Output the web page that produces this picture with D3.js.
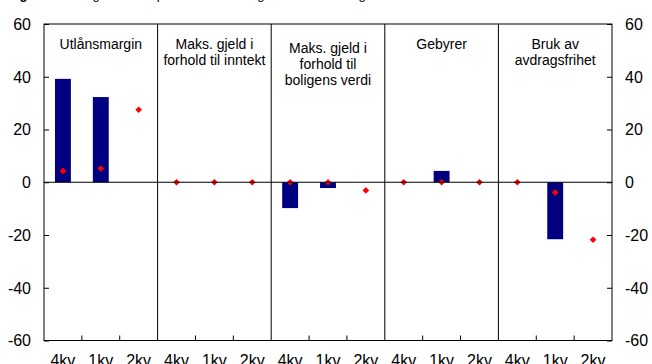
<!DOCTYPE html>
<html>
<head>
<meta charset="utf-8">
<script src="https://cdn.jsdelivr.net/npm/d3@7"></script>
<style>
  body { margin: 0; background: #fff; }
  svg { display: block; font-family: "Liberation Sans", Arial, sans-serif; }
</style>
</head>
<body>
<div id="chart"></div>
<script>
// Panel categories (label lines as shown)
const categories = ["Utlånsmargin", "Inntekt", "Boligverdi", "Gebyrer", "Avdragsfrihet"];
const categoryLabels = [
    ["Utlånsmargin"],
    ["Maks. gjeld i", "forhold til inntekt"],
    ["Maks. gjeld i", "forhold til", "boligens verdi"],
    ["Gebyrer"],
    ["Bruk av", "avdragsfrihet"]
];
const periods = ["4kv", "1kv", "2kv"];

// Bars: actual change (no bar for the last period)
const actual = [
    [39.2, 32.3, null],
    [0, 0, null],
    [-9.8, -2.2, null],
    [0, 4.3, null],
    [0, -21.6, null]
];
// Red diamonds: expected change
const expected = [
    [4.3, 5.2, 27.5],
    [0, 0, 0],
    [0, 0, -3.1],
    [0, 0, 0],
    [0, -3.9, -21.8]
];
const yTicks = [-60, -40, -20, 0, 20, 40, 60];

const W = 652, H = 364;
const margin = { top: 24, right: 40, bottom: 23.5, left: 44 };
const width = W - margin.left - margin.right;
const height = H - margin.top - margin.bottom;

const svg = d3.select("#chart").append("svg")
    .attr("width", W)
    .attr("height", H);

// Clipped title at the very top
svg.append("text")
    .attr("x", 8)
    .attr("y", -1)
    .attr("font-size", 13)
    .call(t => {
        t.append("tspan").attr("font-weight", "bold").text("Figur 3 ");
        t.append("tspan").text("Endringer i kredittpraksis. Faktisk og forventet endring");
    });

const g = svg.append("g")
    .attr("transform", `translate(${margin.left},${margin.top})`);

const x0 = d3.scaleBand().domain(categories).range([0, width]).padding(0);
const x1 = d3.scaleBand().domain(periods).range([0, x0.bandwidth()]).padding(0);
const y = d3.scaleLinear().domain([-60, 60]).range([height, 0]);

const barW = x1.bandwidth() * 0.42;

// Bars
const panels = g.selectAll("g.panel")
    .data(categories)
    .enter()
    .append("g")
    .attr("class", "panel")
    .attr("transform", d => `translate(${x0(d)},0)`);

panels.selectAll("rect")
    .data((d, i) => periods.map((p, j) => ({ p, v: actual[i][j] })).filter(e => e.v !== null && e.v !== 0))
    .enter()
    .append("rect")
    .attr("x", d => x1(d.p) + x1.bandwidth() / 2 - barW / 2)
    .attr("width", barW)
    .attr("y", d => y(Math.max(0, d.v)))
    .attr("height", d => Math.abs(y(d.v) - y(0)))
    .attr("fill", "#000080");

// Zero line
g.append("line")
    .attr("x1", 0).attr("x2", width)
    .attr("y1", y(0)).attr("y2", y(0))
    .attr("stroke", "#000").attr("stroke-width", 1.2);

// Panel dividers
g.selectAll("line.div")
    .data(categories.slice(1))
    .enter()
    .append("line")
    .attr("class", "div")
    .attr("x1", d => x0(d)).attr("x2", d => x0(d))
    .attr("y1", 0).attr("y2", height)
    .attr("stroke", "#000").attr("stroke-width", 1);

// Diamonds
const diamond = d3.symbol().type(d3.symbolDiamond2).size(28);
panels.selectAll("path.dot")
    .data((d, i) => periods.map((p, j) => ({ p, v: expected[i][j] })))
    .enter()
    .append("path")
    .attr("class", "dot")
    .attr("d", diamond)
    .attr("transform", d => `translate(${x1(d.p) + x1.bandwidth() / 2},${y(d.v)})`)
    .attr("fill", "#ff0000");

// Category labels
panels.each(function(d, i) {
    const lines = categoryLabels[i];
    const top = lines.length === 3 ? 53 : 49;
    const t = d3.select(this).append("text")
        .attr("text-anchor", "middle")
        .attr("font-size", 14)
        .attr("fill", "#000");
    lines.forEach((s, k) => {
        t.append("tspan")
            .attr("x", x0.bandwidth() / 2)
            .attr("y", top - margin.top + k * 16)
            .text(s);
    });
});

// Frame
g.append("rect")
    .attr("x", 0).attr("y", 0)
    .attr("width", width).attr("height", height)
    .attr("fill", "none")
    .attr("stroke", "#000").attr("stroke-width", 1);

// Y axes (ticks inward)
const yLeft = g.append("g")
    .call(d3.axisRight(y).tickValues(yTicks).tickSize(5).tickFormat(""));
const yRight = g.append("g")
    .attr("transform", `translate(${width},0)`)
    .call(d3.axisLeft(y).tickValues(yTicks).tickSize(5).tickFormat(""));
[yLeft, yRight].forEach(a => { a.select(".domain").remove(); a.selectAll("line").attr("stroke", "#000"); });

g.selectAll("text.yl")
    .data(yTicks)
    .enter()
    .append("text")
    .attr("class", "yl")
    .attr("x", -13)
    .attr("y", d => y(d))
    .attr("dy", "0.36em")
    .attr("text-anchor", "end")
    .attr("font-size", 16)
    .text(d => d);

g.selectAll("text.yr")
    .data(yTicks)
    .enter()
    .append("text")
    .attr("class", "yr")
    .attr("x", width + 13)
    .attr("y", d => y(d))
    .attr("dy", "0.36em")
    .attr("text-anchor", "start")
    .attr("font-size", 16)
    .text(d => d);

// Bottom ticks (pointing up) and period labels
panels.selectAll("line.xt")
    .data(periods.slice(1))
    .enter()
    .append("line")
    .attr("x1", d => x1(d)).attr("x2", d => x1(d))
    .attr("y1", height).attr("y2", height - 5)
    .attr("stroke", "#000");

panels.selectAll("text.xl")
    .data(periods)
    .enter()
    .append("text")
    .attr("x", d => x1(d) + x1.bandwidth() / 2)
    .attr("y", height + 25.5)
    .attr("text-anchor", "middle")
    .attr("font-size", 16)
    .text(d => d);
</script>
</body>
</html>
